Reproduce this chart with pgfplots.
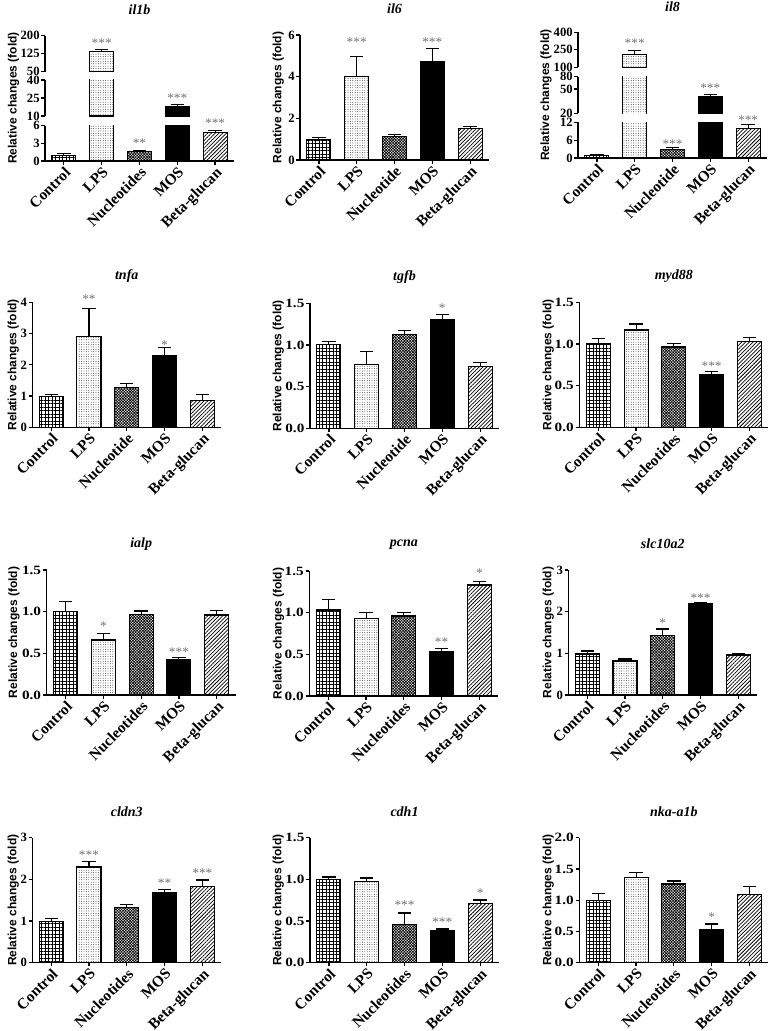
\documentclass[border=0pt]{standalone}
\usepackage{fontspec}
\setmainfont{Liberation Serif}
\newfontfamily\arialf{Liberation Sans}
\usepackage{pgfplots}
\pgfplotsset{compat=1.18}
\usetikzlibrary{patterns.meta}

\newcommand\xfont{\fontsize{11.5}{12}\selectfont\bfseries}
\newcommand\yfont{\fontsize{9.5}{11}\selectfont\bfseries}
\newcommand\titfont{\fontsize{10.5}{12}\selectfont\bfseries\itshape}
\newcommand\labfont{\arialf\fontsize{9}{10}\selectfont\bfseries}
\newcommand\starfont{\fontsize{10}{10}\selectfont}

\pgfplotsset{
  panel/.style={
    scale only axis, width=141.75pt, height=93.75pt, anchor=south west,
    xmin=-0.5, xmax=4.5, ymin=0,
    axis x line*=bottom, axis y line*=left,
    axis line style={line width=0.9pt, black},
    tick style={line width=0.9pt, black},
    tick align=outside, major tick length=2.8pt,
    xtick={0,...,4},
    xticklabel style={rotate=45, anchor=north east, inner sep=0.5pt, font=\xfont},
    yticklabel style={font=\yfont, inner sep=1pt},
    ylabel={Relative changes (fold)},
    every axis title/.style={at={(axis description cs:0.5,1)}, anchor=center, yshift=19.5pt, font=\titfont},
    clip mode=individual,
    /pgf/number format/assume math mode=true,
  },
  dec/.style={yticklabel style={xscale=1.2}},
  ylab/.style={every axis y label/.style={xshift=-#1, at={(axis description cs:0,0.5)}, rotate=90, anchor=center, font=\labfont}},
  upper/.style={axis x line=none, xtick=\empty, ylabel={}},
  overlay axis/.style={hide axis, clip=false, ylabel={}, title={}},
  barbase/.style={ybar, bar width=18pt, bar shift=0pt, draw=black, line width=0.8pt},
  eb/.style={error bars/.cd, y dir=plus, y explicit, error bar style={line width=0.8pt, black}, error mark options={rotate=90, mark size=5pt, line width=0.8pt, black}},
  bar0/.style={barbase, pattern={Hatch[angle=0,distance=2.6pt,line width=0.4pt]}},
  bar1/.style={barbase, pattern={Dots[distance=1.8pt,radius=0.3pt]}},
  bar2/.style={barbase, pattern={Hatch[angle=45,distance=1.5pt,line width=0.5pt]}},
  bar3/.style={barbase, fill=black},
  bar4/.style={barbase, pattern={Lines[angle=45,distance=2pt,line width=0.55pt]}},
}
\newcommand\B[3]{\addplot[bar#1, eb] coordinates {(#1,#2) +- (0,#3)};}
\newcommand\Bn[2]{\addplot[bar#1] coordinates {(#1,#2)};}
\newcommand\St[3]{\addplot[only marks, mark=text, text mark={#3}, text mark as node=true, mark options={solid}, text mark style={anchor=center, font=\starfont, text=black!55, inner sep=0pt}] coordinates {(#1,#2)};}

\begin{document}
\begin{tikzpicture}
\path[use as bounding box] (0,0) rectangle (580.5pt,-773.25pt);

% ---------------- il1b (broken axis)
\begin{axis}[panel, at={(33.75pt,-120.75pt)}, height=26.5pt, ymax=6, ytick={0,3,6}, yticklabels={0,3,6}, ylabel={},
  xticklabels={Control,LPS,Nucleotides,MOS,Beta-glucan}]
\B{0}{1.0}{0.2}
\Bn{1}{136}
\B{2}{1.58}{0.22}
\Bn{3}{18}
\B{4}{4.8}{0.4}
\St{2}{3.1}{**}
\end{axis}
\begin{axis}[panel, overlay axis, at={(33.75pt,-120.75pt)}, height=26.5pt, ymax=6]
\St{4}{6.5}{***}
\end{axis}
\begin{axis}[panel, upper, at={(33.75pt,-87pt)}, height=27pt, ymin=10, ymax=40, ytick={10,25,40}, yticklabels={10,25,40},
  ylab=23.5pt, ylabel={Relative changes (fold)}]
\Bn{1}{136}
\B{3}{18}{1.7}
\St{3}{24.7}{***}
\end{axis}
\begin{axis}[panel, upper, at={(33.75pt,-53.8pt)}, height=27pt, ymin=50, ymax=200, ytick={50,125,200}, yticklabels={50,125,200}, title={il1b}]
\B{1}{136}{7}
\St{1}{168}{***}
\end{axis}

% ---------------- il6
\begin{axis}[panel, at={(225pt,-120pt)}, ymax=6, ytick={0,2,4,6}, yticklabels={0,2,4,6}, ylab=16.3pt, title={il6},
  xticklabels={Control,LPS,Nucleotide,MOS,Beta-glucan}]
\B{0}{1.0}{0.06}
\B{1}{4.02}{0.95}
\B{2}{1.11}{0.11}
\B{3}{4.71}{0.64}
\B{4}{1.51}{0.11}
\St{1}{5.68}{***}
\St{3}{5.67}{***}
\end{axis}

% ---------------- il8 (broken axis)
\begin{axis}[panel, at={(433.5pt,-118.5pt)}, height=26.8pt, ymax=12, ytick={0,6,12}, yticklabels={0,6,12}, ylabel={},
  xticklabels={Control,LPS,Nucleotide,MOS,Beta-glucan}]
\B{0}{0.9}{0.2}
\Bn{1}{214}
\B{2}{2.9}{0.5}
\Bn{3}{37.6}
\B{4}{9.8}{1.3}
\St{2}{4.7}{***}
\end{axis}
\begin{axis}[panel, overlay axis, at={(433.5pt,-118.5pt)}, height=26.8pt, ymax=12]
\St{4}{12.8}{***}
\end{axis}
\begin{axis}[panel, upper, at={(433.5pt,-85pt)}, height=27.5pt, ymode=log, ymin=20, ymax=80, ytick={20,50,80}, yticklabels={20,50,80},
  yminorticks=false, ylab=24pt, ylabel={Relative changes (fold)}]
\Bn{1}{214}
\B{3}{37.6}{3.4}
\St{3}{51.5}{***}
\end{axis}
\begin{axis}[panel, upper, at={(433.5pt,-50.5pt)}, height=26.25pt, ymin=100, ymax=400, ytick={100,250,400}, yticklabels={100,250,400}, title={il8}]
\B{1}{214}{29}
\St{1}{306}{***}
\end{axis}

% ---------------- tnfa
\begin{axis}[panel, clip=false, at={(24.2pt,-320.5pt)}, ymax=4, ytick={0,1,2,3,4}, yticklabels={0,1,2,3,4}, ylab=14.25pt, title={tnfa},
  xticklabels={Control,LPS,Nucleotide,MOS,Beta-glucan}]
\B{0}{1.0}{0.05}
\B{1}{2.92}{0.87}
\B{2}{1.28}{0.13}
\B{3}{2.30}{0.25}
\B{4}{0.87}{0.19}
\St{1}{4.1}{**}
\St{3}{2.64}{*}
\end{axis}

% ---------------- tgfb
\begin{axis}[panel, dec, at={(232.5pt,-321.2pt)}, ymax=1.5, ytick={0,0.5,1,1.5}, yticklabels={0.0,0.5,1.0,1.5}, ylab=23.8pt, title={tgfb},
  xticklabels={Control,LPS,Nucleotide,MOS,Beta-glucan}]
\B{0}{1.0}{0.044}
\B{1}{0.76}{0.16}
\B{2}{1.12}{0.056}
\B{3}{1.30}{0.06}
\B{4}{0.736}{0.052}
\St{3}{1.44}{*}
\end{axis}

% ---------------- myd88
\begin{axis}[panel, dec, at={(434.5pt,-320.5pt)}, ymax=1.5, ytick={0,0.5,1,1.5}, yticklabels={0.0,0.5,1.0,1.5}, ylab=23.25pt, title={myd88},
  xticklabels={Control,LPS,Nucleotides,MOS,Beta-glucan}]
\B{0}{1.0}{0.064}
\B{1}{1.168}{0.072}
\B{2}{0.964}{0.04}
\B{3}{0.632}{0.04}
\B{4}{1.032}{0.044}
\St{3}{0.736}{***}
\end{axis}

% ---------------- ialp
\begin{axis}[panel, dec, at={(35pt,-521.25pt)}, ymax=1.5, ytick={0,0.5,1,1.5}, yticklabels={0.0,0.5,1.0,1.5}, ylab=24.5pt, title={ialp},
  xticklabels={Control,LPS,Nucleotides,MOS,Beta-glucan}]
\B{0}{1.0}{0.12}
\B{1}{0.66}{0.08}
\B{2}{0.968}{0.04}
\B{3}{0.428}{0.02}
\B{4}{0.96}{0.056}
\St{1}{0.828}{*}
\St{3}{0.52}{***}
\end{axis}

% ---------------- pcna
\begin{axis}[panel, dec, at={(232pt,-522pt)}, ymax=1.5, ytick={0,0.5,1,1.5}, yticklabels={0.0,0.5,1.0,1.5}, ylab=23pt, title={pcna},
  xticklabels={Control,LPS,Nucleotides,MOS,Beta-glucan}]
\B{0}{1.032}{0.124}
\B{1}{0.932}{0.068}
\B{2}{0.96}{0.04}
\B{3}{0.528}{0.04}
\B{4}{1.332}{0.04}
\St{3}{0.644}{**}
\St{4}{1.472}{*}
\end{axis}

% ---------------- slc10a2
\begin{axis}[panel, at={(426.2pt,-521.25pt)}, ymax=3, ytick={0,1,2,3}, yticklabels={0,1,2,3}, ylab=15pt, title={slc10a2},
  xticklabels={Control,LPS,Nucleotides,MOS,Beta-glucan}]
\B{0}{0.984}{0.072}
\B{1}{0.816}{0.048}
\B{2}{1.424}{0.16}
\B{3}{2.19}{0.026}
\B{4}{0.96}{0.04}
\St{2}{1.72}{*}
\St{3}{2.336}{***}
\end{axis}

% ---------------- cldn3
\begin{axis}[panel, at={(24.2pt,-722pt)}, ymax=3, ytick={0,1,2,3}, yticklabels={0,1,2,3}, ylab=14.25pt, title={cldn3},
  xticklabels={Control,LPS,Nucleotides,MOS,Beta-glucan}]
\B{0}{0.984}{0.072}
\B{1}{2.296}{0.134}
\B{2}{1.328}{0.072}
\B{3}{1.688}{0.072}
\B{4}{1.824}{0.16}
\St{1}{2.584}{***}
\St{3}{1.92}{**}
\St{4}{2.144}{***}
\end{axis}

% ---------------- cdh1
\begin{axis}[panel, dec, at={(232.5pt,-722pt)}, ymax=1.5, ytick={0,0.5,1,1.5}, yticklabels={0.0,0.5,1.0,1.5}, ylab=23.8pt, title={cdh1},
  xticklabels={Control,LPS,Nucleotides,MOS,Beta-glucan}]
\B{0}{1.0}{0.028}
\B{1}{0.976}{0.04}
\B{2}{0.46}{0.136}
\B{3}{0.388}{0.016}
\B{4}{0.712}{0.04}
\St{2}{0.692}{***}
\St{3}{0.492}{***}
\St{4}{0.84}{*}
\end{axis}

% ---------------- nka-a1b
\begin{axis}[panel, dec, at={(434.5pt,-722pt)}, ymax=2, ytick={0,0.5,1,1.5,2}, yticklabels={0.0,0.5,1.0,1.5,2.0}, ylab=23.25pt, title={nka-a1b},
  xticklabels={Control,LPS,Nucleotides,MOS,Beta-glucan}]
\B{0}{0.997}{0.107}
\B{1}{1.36}{0.08}
\B{2}{1.259}{0.048}
\B{3}{0.528}{0.091}
\B{4}{1.093}{0.128}
\St{3}{0.736}{*}
\end{axis}

\end{tikzpicture}
\end{document}
